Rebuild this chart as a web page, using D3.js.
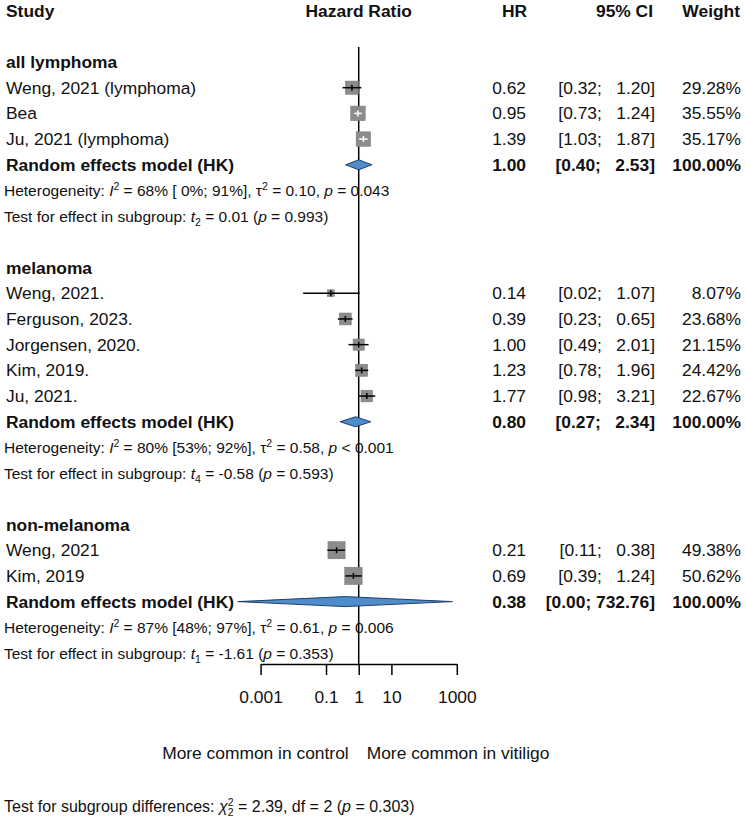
<!DOCTYPE html>
<html>
<head>
<meta charset="utf-8">
<script src="https://cdn.jsdelivr.net/npm/d3@7"></script>
<style>
	body {
		margin: 0;
		background: #fff;
	}
	svg text {
		font-family: "Liberation Sans", Arial, sans-serif;
		fill: #111;
		white-space: pre;
	}
	.big {
		font-size: 17.4px;
	}
	.small {
		font-size: 15.5px;
	}
	.bold {
		font-weight: bold;
	}
</style>
</head>
<body>
<script>

	// studies, one entry per row
	var groupNames = ["all lymphoma", "melanoma", "non-melanoma"];
	var studyNames = ["Weng, 2021 (lymphoma)", "Bea", "Ju, 2021 (lymphoma)",
		"Weng, 2021.", "Ferguson, 2023.", "Jorgensen, 2020.", "Kim, 2019.", "Ju, 2021.",
		"Weng, 2021", "Kim, 2019"];
	var studyGroup = [0, 0, 0, 1, 1, 1, 1, 1, 2, 2];
	var studyHR = [0.62, 0.95, 1.39, 0.14, 0.39, 1.00, 1.23, 1.77, 0.21, 0.69];
	var studyLower = [0.32, 0.73, 1.03, 0.02, 0.23, 0.49, 0.78, 0.98, 0.11, 0.39];
	var studyUpper = [1.20, 1.24, 1.87, 1.07, 0.65, 2.01, 1.96, 3.21, 0.38, 1.24];
	var studyWeight = [29.28, 35.55, 35.17, 8.07, 23.68, 21.15, 24.42, 22.67, 49.38, 50.62];

	// random effects model (HK) per subgroup
	var pooledHR = [1.00, 0.80, 0.38];
	var pooledLower = [0.40, 0.27, 0.0002];
	var pooledUpper = [2.53, 2.34, 732.76];

	// heterogeneity + test for effect per subgroup
	var hetI2 = [68, 80, 87];
	var hetI2Lower = [0, 53, 48];
	var hetI2Upper = [91, 92, 97];
	var hetTau2 = [0.10, 0.58, 0.61];
	var hetP = ["= 0.043", "< 0.001", "= 0.006"];
	var testDf = [2, 4, 1];
	var testT = [0.01, -0.58, -1.61];
	var testP = [0.993, 0.593, 0.353];

	var subgroupChi2 = 2.39, subgroupDf = 2, subgroupP = 0.303;

	var axisTicks = [0.001, 0.1, 1, 10, 1000];

	var width = 746, height = 822;

	var svg = d3.select("body").append("svg")
		.attr("width", width)
		.attr("height", height);

	// build the row list
	var rows = [];
	var idx = 1;
	groupNames.forEach(function(g, gi) {
		rows.push({type: "group", i: idx++, g: gi});
		studyNames.forEach(function(s, si) {
			if (studyGroup[si] == gi) rows.push({type: "study", i: idx++, s: si});
		});
		rows.push({type: "pooled", i: idx++, g: gi});
		rows.push({type: "het", i: idx++, g: gi});
		rows.push({type: "test", i: idx++, g: gi});
		idx++;
	});

	var y = d3.scaleLinear().domain([1, 24]).range([62, 653]);
	var x = d3.scaleLog().domain([0.001, 1000]).range([260.6, 456.8]);

	var colHR = 526, colCI = 655, colW = 741, textX = 6;

	var fmt2 = function(v) { return v.toFixed(2); };
	var allUpper = studyUpper.concat(pooledUpper).map(fmt2);
	var maxUpLen = d3.max(allUpper, function(s) { return s.length; });
	function fmtCI(lo, hi) {
		var h = fmt2(hi);
		return "[" + fmt2(lo) + ";" + " ".repeat(1 + maxUpLen - h.length) + h + "]";
	}

	// text with italic / super / subscript parts
	function richText(x0, yb, cls, parts) {
		var t = svg.append("text").attr("x", x0).attr("y", yb).attr("class", cls);
		var shift = 0;
		parts.forEach(function(p) {
			if (typeof p === "string") p = {t: p};
			var target = p.sup ? -6 : (p.sub ? 4 : 0);
			var ts = t.append("tspan").text(p.t).attr("dy", target - shift);
			if (p.dx) ts.attr("dx", p.dx);
			if (p.it) ts.style("font-style", "italic");
			if (p.sup || p.sub) ts.style("font-size", "10.5px");
			shift = target;
		});
		return t;
	}

	// header
	var headY = 17;
	svg.append("text").attr("class", "big bold").attr("x", textX).attr("y", headY).text("Study");
	svg.append("text").attr("class", "big bold").attr("x", x(1)).attr("y", headY)
		.style("text-anchor", "middle").text("Hazard Ratio");
	svg.append("text").attr("class", "big bold").attr("x", colHR + 1).attr("y", headY)
		.style("text-anchor", "end").text("HR");
	svg.append("text").attr("class", "big bold").attr("x", colCI - 2).attr("y", headY)
		.style("text-anchor", "end").text("95% CI");
	svg.append("text").attr("class", "big bold").attr("x", colW - 1).attr("y", headY)
		.style("text-anchor", "end").text("Weight");

	// reference line at HR = 1
	svg.append("line")
		.attr("x1", x(1)).attr("x2", x(1))
		.attr("y1", 47).attr("y2", 664)
		.style("stroke", "#000").style("stroke-width", 1.5);

	rows.forEach(function(r) {
		var cy = y(r.i), tb = cy + 6;
		if (r.type == "group") {
			svg.append("text").attr("class", "big bold").attr("x", textX).attr("y", tb)
				.text(groupNames[r.g]);
		}
		else if (r.type == "study") {
			var si = r.s;
			var size = 2.45 * Math.sqrt(studyWeight[si]);
			var cx = x(studyHR[si]);
			var x1 = x(studyLower[si]), x2 = x(studyUpper[si]);
			// CI drawn white only when it sits well inside the box
			var inside = x1 >= cx - size / 2 + 1.5 && x2 <= cx + size / 2 - 1.5;
			var col = inside ? "#fff" : "#000";
			svg.append("rect")
				.attr("x", cx - size / 2).attr("y", cy - size / 2)
				.attr("width", size).attr("height", size)
				.style("fill", "#8c8c8c").style("stroke", "#7a7a7a").style("stroke-width", 0.5);
			svg.append("line")
				.attr("x1", x1).attr("x2", x2).attr("y1", cy).attr("y2", cy)
				.style("stroke", col).style("stroke-width", 1.5);
			svg.append("line")
				.attr("x1", cx).attr("x2", cx).attr("y1", cy - 3).attr("y2", cy + 3)
				.style("stroke", col).style("stroke-width", 1.5);

			svg.append("text").attr("class", "big").attr("x", textX).attr("y", tb).text(studyNames[si]);
			svg.append("text").attr("class", "big").attr("x", colHR).attr("y", tb)
				.style("text-anchor", "end").text(fmt2(studyHR[si]));
			svg.append("text").attr("class", "big").attr("x", colCI).attr("y", tb)
				.style("text-anchor", "end").text(fmtCI(studyLower[si], studyUpper[si]));
			svg.append("text").attr("class", "big").attr("x", colW).attr("y", tb)
				.style("text-anchor", "end").text(fmt2(studyWeight[si]) + "%");
		}
		else if (r.type == "pooled") {
			var g = r.g;
			var pts = [[x(pooledLower[g]), cy], [x(pooledHR[g]), cy - 5],
				[x(pooledUpper[g]), cy], [x(pooledHR[g]), cy + 5]];
			svg.append("polygon")
				.attr("points", pts.map(function(p) { return p.join(","); }).join(" "))
				.style("fill", "#4f8ccc").style("stroke", "#1f3f66").style("stroke-width", 1);

			svg.append("text").attr("class", "big bold").attr("x", textX).attr("y", tb)
				.text("Random effects model (HK)");
			svg.append("text").attr("class", "big bold").attr("x", colHR).attr("y", tb)
				.style("text-anchor", "end").text(fmt2(pooledHR[g]));
			svg.append("text").attr("class", "big bold").attr("x", colCI).attr("y", tb)
				.style("text-anchor", "end").text(fmtCI(pooledLower[g], pooledUpper[g]));
			svg.append("text").attr("class", "big bold").attr("x", colW).attr("y", tb)
				.style("text-anchor", "end").text("100.00%");
		}
		else if (r.type == "het") {
			var g = r.g;
			var lo = (hetI2Lower[g] + "%").padStart(3, " ");
			richText(4, tb, "small", [
				"Heterogeneity: ", {t: "I", it: true}, {t: "2", sup: true},
				" = " + hetI2[g] + "% [" + lo + "; " + hetI2Upper[g] + "%], ",
				"\u03c4", {t: "2", sup: true}, " = " + fmt2(hetTau2[g]) + ", ",
				{t: "p", it: true}, " " + hetP[g]
			]);
		}
		else if (r.type == "test") {
			var g = r.g;
			richText(4, tb, "small", [
				"Test for effect in subgroup: ", {t: "t", it: true}, {t: String(testDf[g]), sub: true},
				" = " + fmt2(testT[g]) + " (", {t: "p", it: true}, " = " + testP[g].toFixed(3) + ")"
			]);
		}
	});

	// x axis
	var axisG = svg.append("g")
		.attr("transform", "translate(0,664)")
		.call(d3.axisBottom(x)
			.tickValues(axisTicks)
			.tickSize(11)
			.tickSizeOuter(0)
			.tickPadding(16)
			.tickFormat(d3.format("~g")));
	axisG.select(".domain").style("stroke", "#000").style("stroke-width", 1.5);
	axisG.selectAll(".tick line").style("stroke", "#000").style("stroke-width", 1.5);
	axisG.selectAll(".tick text")
		.attr("class", "big")
		.style("font-family", "'Liberation Sans', Arial, sans-serif")
		.style("font-size", "17.4px")
		.style("fill", "#111");

	svg.append("text").attr("class", "big").attr("x", x(1) - 10).attr("y", 759)
		.style("text-anchor", "end").text("More common in control");
	svg.append("text").attr("class", "big").attr("x", x(1) + 8).attr("y", 759)
		.text("More common in vitiligo");

	richText(4, 812, "small", [
		"Test for subgroup differences: ", {t: "\u03c7", it: true}, {t: "2", sup: true},
		{t: String(subgroupDf), sub: true, dx: -5.8},
		" = " + subgroupChi2.toFixed(2) + ", df = " + subgroupDf + " (", {t: "p", it: true},
		" = " + subgroupP.toFixed(3) + ")"
	]).style("font-size", "16px");

</script>
</body>
</html>
